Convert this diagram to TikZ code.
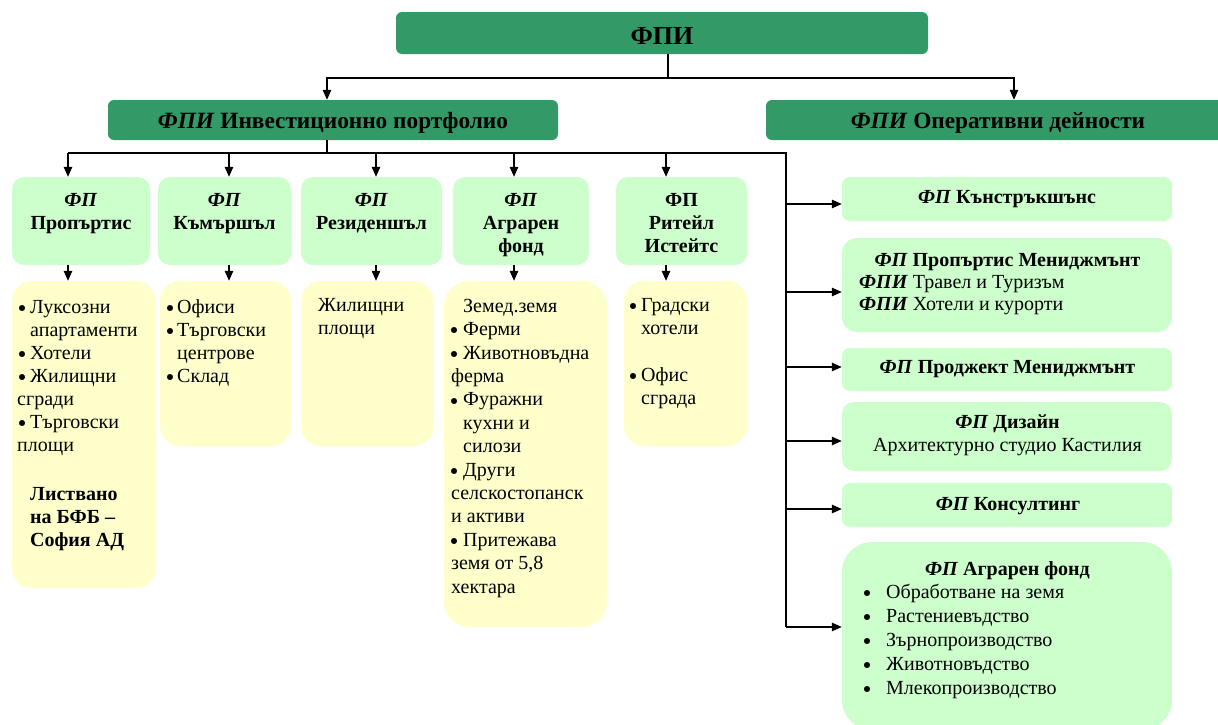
\documentclass[tikz,border=0pt]{standalone}
\usepackage{fontspec}
\setmainfont{Liberation Serif}
\usetikzlibrary{arrows.meta}
\definecolor{dkgreen}{HTML}{339966}
\definecolor{ltgreen}{HTML}{CCFFCC}
\definecolor{ltyellow}{HTML}{FFFFCC}
\tikzset{
  bx/.style={draw=none, inner sep=0pt, rectangle},
  hdr/.style={bx, fill=dkgreen, rounded corners=6pt},
  gbox/.style={bx, fill=ltgreen, rounded corners=12pt},
  ybox/.style={bx, fill=ltyellow, rounded corners=20pt},
  ln/.style={line width=1.3pt, black},
  arr/.style={ln, -{Triangle[length=10pt,width=8.5pt]}},
  tx/.style={inner sep=0pt, font=\fontsize{20}{23}\selectfont},
  blk/.style={tx, align=left, anchor=north west},
  cb/.style={inner sep=0pt, align=center, anchor=north, font=\fontsize{20}{23}\selectfont\bfseries},
}
\newcommand\fl{\rule{0pt}{18pt}}
\newcommand\bu[1]{\makebox[#1pt][l]{\setlength\unitlength{1pt}\begin{picture}(6,0)\put(3,4.8){\circle*{6}}\end{picture}}}
\begin{document}
\begin{tikzpicture}[x=1pt,y=-1pt]
\useasboundingbox (0,0) rectangle (1218,724);
\begin{scope}
\clip (0,0) rectangle (1218,724);
% headers
\node[hdr, minimum width=532pt, minimum height=42pt] (top) at (662,33) {};
\node[hdr, minimum width=450pt, minimum height=40pt] (lh) at (333,120) {};
\node[hdr, minimum width=464pt, minimum height=40pt] (rh) at (998,120) {};
% level 2 green
\node[gbox, minimum width=138pt, minimum height=88pt] (g1) at (81,221) {};
\node[gbox, minimum width=133pt, minimum height=88pt] (g2) at (224.5,221) {};
\node[gbox, minimum width=141pt, minimum height=88pt] (g3) at (371.5,221) {};
\node[gbox, minimum width=136pt, minimum height=88pt] (g4) at (521,221) {};
\node[gbox, minimum width=131pt, minimum height=88pt] (g5) at (681.5,221) {};
% yellow
\node[ybox, minimum width=144pt, minimum height=307pt] (y1) at (84,434.5) {};
\node[ybox, minimum width=131pt, minimum height=165pt] (y2) at (225.5,363.5) {};
\node[ybox, minimum width=133pt, minimum height=165pt] (y3) at (367.5,363.5) {};
\node[ybox, minimum width=163pt, minimum height=346pt, rounded corners=25pt] (y4) at (525.5,454) {};
\node[ybox, minimum width=123pt, minimum height=165pt] (y5) at (685.5,363.5) {};
% right column
\node[gbox, rounded corners=8pt, minimum width=330pt, minimum height=44pt] (r1) at (1007,199) {};
\node[gbox, rounded corners=15pt, minimum width=330pt, minimum height=94pt] (r2) at (1007,285) {};
\node[gbox, rounded corners=8pt, minimum width=330pt, minimum height=43pt] (r3) at (1007,369.5) {};
\node[gbox, rounded corners=12pt, minimum width=330pt, minimum height=69pt] (r4) at (1007,436.5) {};
\node[gbox, rounded corners=8pt, minimum width=330pt, minimum height=44pt] (r5) at (1007,505) {};
\node[gbox, rounded corners=30pt, minimum width=330pt, minimum height=188pt] (r6) at (1007,636) {};
\end{scope}
% texts
\node[inner sep=0pt, anchor=base, font=\fontsize{26}{30}\selectfont\bfseries] (ttop) at (662,44) {ФПИ};
\node[inner sep=0pt, anchor=base, font=\fontsize{23.3}{26}\selectfont\bfseries] (tlh) at (333,128) {\textit{ФПИ} Инвестиционно портфолио};
\node[inner sep=0pt, anchor=base, font=\fontsize{23.3}{26}\selectfont\bfseries] (trh) at (998,128) {\textit{ФПИ} Оперативни дейности};
\node[cb] (tg1) at (81,188) {\fl\textit{ФП}\\Пропъртис};
\node[cb] (tg2) at (224.5,188) {\fl\textit{ФП}\\Къмършъл};
\node[cb] (tg3) at (371.5,188) {\fl\textit{ФП}\\Резиденшъл};
\node[cb] (tg4) at (521,188) {\fl\textit{ФП}\\Аграрен\\фонд};
\node[cb] (tg5) at (681.5,188) {\fl ФП\\Ритейл\\Истейтс};
\node[blk] (ty1) at (17,295) {\fl\hspace*{2pt}\bu{11}Луксозни\\
  \hspace*{13pt}апартаменти\\
  \hspace*{2pt}\bu{11}Хотели\\
  \hspace*{2pt}\bu{11}Жилищни\\
  сгради\\
  \hspace*{2pt}\bu{11}Търговски\\
  площи\\[26pt]
  \hspace*{13pt}\textbf{Листвано}\\
  \hspace*{13pt}\textbf{на БФБ –}\\
  \hspace*{13pt}\textbf{София АД}};
\node[blk] (ty2) at (167,295) {\fl\bu{10}Офиси\\
  \bu{10}Търговски\\
  \hspace*{10pt}центрове\\
  \bu{10}Склад};
\node[blk] (ty3) at (318,293) {\fl Жилищни\\площи};
\node[blk, font=\fontsize{20}{23.4}\selectfont] (ty4) at (451,294) {\fl\hspace*{12pt}Земед.земя\\
  \bu{12}Ферми\\
  \bu{12}Животновъдна\\
  ферма\\
  \bu{12}Фуражни\\
  \hspace*{12pt}кухни и\\
  \hspace*{12pt}силози\\
  \bu{12}Други\\
  селскостопанск\\
  и активи\\
  \bu{12}Притежава\\
  земя от 5,8\\
  хектара};
\node[blk] (ty5) at (630,293) {\fl\bu{11}Градски\\
  \hspace*{11pt}хотели\\[24pt]
  \bu{11}Офис\\
  \hspace*{11pt}сграда};
\node[tx, anchor=base] (tr1) at (1007,203) {\textbf{\textit{ФП} Кънстръкшънс}};
\node[tx, anchor=base] (tr2) at (1007.5,266) {\textbf{\textit{ФП} Пропъртис Мениджмънт}};
\node[blk, font=\fontsize{20}{22}\selectfont] (tr2b) at (859,270) {\fl\textbf{\textit{ФПИ}} Травел и Туризъм\\
  \textbf{\textit{ФПИ}} Хотели и курорти};
\node[tx, anchor=base] (tr3) at (1007.5,373) {\textbf{\textit{ФП} Проджект Мениджмънт}};
\node[tx, anchor=base] (tr4) at (1007.5,428) {\textbf{\textit{ФП} Дизайн}};
\node[tx, anchor=base] (tr4b) at (1007.5,451) {Архитектурно студио Кастилия};
\node[tx, anchor=base] (tr5) at (1008,510) {\textbf{\textit{ФП} Консултинг}};
\node[tx, anchor=base] (tr6) at (1007.5,575) {\textbf{\textit{ФП} Аграрен фонд}};
\node[blk, font=\fontsize{20}{24}\selectfont] (tr6b) at (864,580) {\fl\bu{22}Обработване на земя\\
  \bu{22}Растениевъдство\\
  \bu{22}Зърнопроизводство\\
  \bu{22}Животновъдство\\
  \bu{22}Млекопроизводство};
% connectors
\coordinate (k0) at (668,78);
\coordinate (ka) at (327,78);
\coordinate (kb) at (1014,78);
\draw[ln] (top.south -| k0) -- (k0);
\draw[arr] (k0) -- (ka) -- (ka |- lh.north);
\draw[arr] (k0) -- (kb) -- (kb |- rh.north);
\coordinate (k1) at (327,153);
\coordinate (a1) at (68,153);
\coordinate (a2) at (229,153);
\coordinate (a3) at (376,153);
\coordinate (a4) at (514,153);
\coordinate (a5) at (666,153);
\coordinate (rv) at (786,153);
\coordinate (c1) at (786,204);
\coordinate (c2) at (786,292);
\coordinate (c3) at (786,367);
\coordinate (c4) at (786,441);
\coordinate (c5) at (786,509);
\coordinate (c6) at (786,627);
\draw[ln] (lh.south -| k1) -- (k1);
\draw[ln] (a1) -- (rv) -- (c6);
\foreach \i in {1,...,5}{
  \draw[arr] (a\i) -- (a\i |- g\i.north);
  \draw[arr] (a\i |- g\i.south) -- (a\i |- y\i.north);
}
\foreach \i in {1,...,6}{
  \draw[arr] (c\i) -- (c\i -| r\i.west);
}
\end{tikzpicture}
\end{document}
